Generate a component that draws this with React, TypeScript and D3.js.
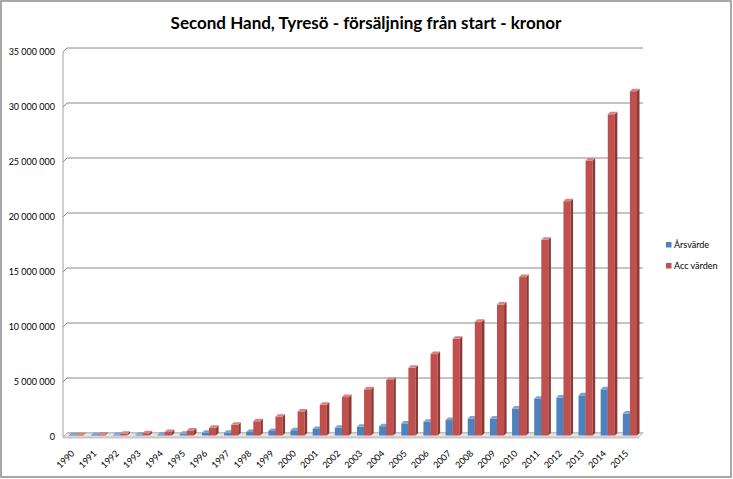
import * as d3 from 'd3';
import React from 'react';

const years = [
  '1990', '1991', '1992', '1993', '1994', '1995', '1996', '1997', '1998',
  '1999', '2000', '2001', '2002', '2003', '2004', '2005', '2006', '2007',
  '2008', '2009', '2010', '2011', '2012', '2013', '2014', '2015'
];

// Årsvärde (kronor per år)
const arsvarde = [
  50000, 50000, 60000, 60000, 100000, 150000, 250000, 260000, 320000,
  420000, 480000, 600000, 700000, 800000, 850000, 1100000, 1250000, 1400000,
  1550000, 1550000, 2450000, 3350000, 3450000, 3650000, 4200000, 2000000
];

// Acc värden (ackumulerat)
const accVarden = [
  50000, 100000, 150000, 210000, 310000, 460000, 710000, 970000, 1290000,
  1710000, 2190000, 2790000, 3490000, 4200000, 5050000, 6150000, 7400000, 8800000,
  10350000, 11900000, 14400000, 17800000, 21300000, 25000000, 29200000, 31300000
];

const yTicks = [0, 5000000, 10000000, 15000000, 20000000, 25000000, 30000000, 35000000];

const seriesNames = ['Årsvärde', 'Acc värden'];

const W = 733;
const H = 479;
const FONT = 'Lato, "Open Sans", sans-serif';

// 3D offsets (depth of the plot and of the bars)
const DEPTH = 4;
const BAR_DEPTH = 2.5;

const colors = [
  { front: '#4f81bd', side: '#36608f', top: '#7ea3d2' },
  { front: '#c0504d', side: '#8c3836', top: '#d88481' }
];

const fmt = (v: number) => d3.format(',')(v).replace(/,/g, ' ');

export default function App() {
  // back-wall scale
  const y = d3.scaleLinear().domain([0, 35000000]).range([433, 48]);
  const yFront = (v: number) => y(v) + DEPTH;

  const x = d3.scaleBand<string>().domain(years).range([63, 639]).paddingInner(0.36).paddingOuter(0.18);
  const xs = d3.scaleBand<number>().domain([0, 1]).range([0, x.bandwidth()]);

  const xLeft = 63;
  const xRight = 639;

  const bars: React.ReactNode[] = [];
  years.forEach((yr, i) => {
    [arsvarde[i], accVarden[i]].forEach((v, s) => {
      const c = colors[s];
      const x0 = x(yr)! + xs(s)! + 2;
      const bw = xs.bandwidth();
      const y0 = yFront(0) - 1.5;
      const y1 = yFront(v) - 1.5;
      const d = BAR_DEPTH;
      bars.push(
        <g key={`${yr}-${s}`}>
          <rect x={x0} y={y1} width={bw} height={Math.max(0, y0 - y1)} fill={c.front} />
          <path
            d={`M${x0 + bw},${y1} L${x0 + bw + d},${y1 - d} L${x0 + bw + d},${y0 - d} L${x0 + bw},${y0} Z`}
            fill={c.side}
          />
          <path
            d={`M${x0},${y1} L${x0 + d},${y1 - d} L${x0 + bw + d},${y1 - d} L${x0 + bw},${y1} Z`}
            fill={c.top}
          />
        </g>
      );
    });
  });

  return (
    <svg
      width={W}
      height={H}
      style={{ position: 'absolute', left: 0, top: 0, background: '#fff' }}
      fontFamily={FONT}
    >
      <rect x={1} y={1} width={W - 3} height={H - 3} fill="#fff" stroke="#8c8c8c" strokeWidth={1.5} />

      <text x={366} y={29} textAnchor="middle" fontSize={17} fontWeight="bold" fill="#000">
        Second Hand, Tyresö - försäljning från start - kronor
      </text>

      {/* gridlines on the back wall */}
      {yTicks.map((t) => (
        <path
          key={t}
          d={`M${xLeft},${yFront(t)} L${xLeft + DEPTH},${y(t)} H${xRight + DEPTH}`}
          fill="none"
          stroke="#8a8a8a"
          strokeWidth={1}
        />
      ))}

      {/* left wall edge */}
      <line x1={xLeft} x2={xLeft} y1={yFront(35000000)} y2={yFront(0)} stroke="#a0a0a0" strokeWidth={1} />

      {/* floor */}
      <path
        d={`M${xLeft},${yFront(0)} L${xLeft + DEPTH},${y(0)} L${xRight + DEPTH},${y(0)} L${xRight},${yFront(0)} Z`}
        fill="#e6e6e6"
        stroke="#b5b5b5"
        strokeWidth={0.8}
      />
      <rect x={xLeft} y={yFront(0)} width={xRight - xLeft} height={1.5} fill="#c8c8c8" />

      {bars}

      {/* y-axis labels */}
      {yTicks.map((t) => (
        <text key={t} x={55} y={yFront(t) + 3} textAnchor="end" fontSize={9} fill="#000">
          {fmt(t)}
        </text>
      ))}

      {/* x-axis labels */}
      {years.map((yr) => {
        const cx = x(yr)! + x.bandwidth() / 2 + 1;
        const cy = 454;
        return (
          <text
            key={yr}
            x={cx}
            y={cy}
            textAnchor="end"
            fontSize={9}
            fill="#000"
            transform={`rotate(-45 ${cx} ${cy})`}
          >
            {yr}
          </text>
        );
      })}

      {/* legend */}
      {seriesNames.map((name, i) => (
        <g key={name} transform={`translate(666,${245 + i * 21})`}>
          <rect x={0} y={-3} width={5.5} height={5.5} fill={colors[i].front} />
          <text x={8} y={3} fontSize={9} fill="#000">
            {name}
          </text>
        </g>
      ))}
    </svg>
  );
}
